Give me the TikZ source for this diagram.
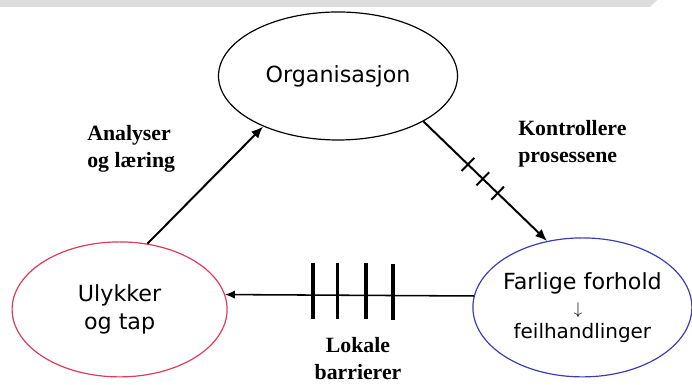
\documentclass[tikz,border=0pt]{standalone}
\usepackage{fontspec}
\setmainfont{Liberation Serif}
\setsansfont{DejaVu Sans}
\usetikzlibrary{shapes.geometric,arrows.meta,positioning,calc}
\definecolor{ulykkered}{HTML}{DC3C5A}
\definecolor{farligblue}{HTML}{3C3CB4}
\definecolor{bargray}{HTML}{DCDCDC}

\begin{document}
\begin{tikzpicture}[
    bubble/.style={draw,ellipse,inner sep=0pt,line width=0.85pt,align=center,
                   font=\sffamily\fontsize{15.8}{20}\selectfont},
    tag/.style={inner sep=0pt,font=\bfseries\fontsize{15.5}{19.2}\selectfont},
    pil/.style={-{Latex[length=8.5pt,width=7pt]},line width=1.4pt},
    kryss/.style={sloped,fill=black,inner sep=0pt,minimum width=1.4pt,minimum height=13pt},
    sperre/.style={fill=black,inner sep=0pt,minimum width=2.8pt,minimum height=39.8pt,yshift=2.8pt}]
  \useasboundingbox (0,0) rectangle (17.3,9.625);
  % grey strip along the top
  \fill[bargray] (0,9.625) -- (16.425,9.625) -- (16.25,9.45) -- (0,9.45) -- cycle;
  % the three states
  \node[bubble,minimum width=5.975cm,minimum height=3.2cm] (org) at (8.45,7.725) {Organisasjon};
  \node[bubble,draw=ulykkered,minimum width=5.375cm,minimum height=3.375cm] (ulyk) at (2.99,1.89) {Ulykker\\og tap};
  \node[bubble,draw=farligblue,minimum width=5.475cm,minimum height=3.475cm] (far) at (14.56,1.94) {};
  \node[font=\sffamily\fontsize{15.8}{20}\selectfont] (farTop) at ($(far.center)+(0,0.61)$) {Farlige forhold};
  \node[font=\large,inner sep=0pt] (farPil) at ($(far.center)+(-0.11,-0.06)$) {$\downarrow$};
  \node[font=\sffamily\fontsize{14.2}{17}\selectfont] (farBot) at ($(far.center)+(0,-0.64)$) {feilhandlinger};
  % arrows
  \draw[pil] (ulyk.67) -- (org.214);
  \draw[pil] (org.-28) -- node[pos=.36,kryss]{} node[pos=.48,kryss]{} node[pos=.60,kryss]{} (far.118);
  \draw[-{Latex[length=7pt,width=6pt]},line width=1.1pt] (far.174) --
    node[pos=.325,sperre]{} node[pos=.435,sperre]{} node[pos=.548,sperre]{} node[pos=.647,sperre]{} (ulyk.8);
  % labels
  \node[tag,align=left,anchor=west] (analyse) at (2.175,5.91) {Analyser\\og læring};
  \node[tag,align=left,anchor=west] (kontroll) at (12.95,6.04) {Kontrollere\\prosessene};
  \node[tag,align=center] (barriere) at (8.95,0.66) {Lokale\\barrierer};
\end{tikzpicture}
\end{document}
